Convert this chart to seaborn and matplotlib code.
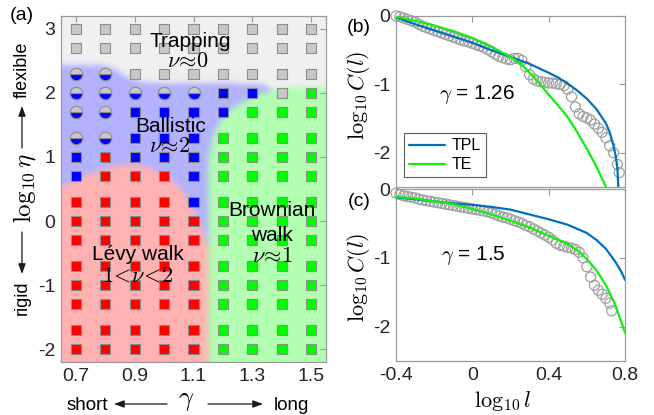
import numpy as np
import pandas as pd
import matplotlib
matplotlib.use('Agg')
import matplotlib.pyplot as plt
from matplotlib.path import Path
from matplotlib.patches import FancyArrowPatch
import seaborn as sns

# ---------------- data: panel (a) phase diagram ----------------
gamma_vals = [0.7, 0.8, 0.9, 1.0, 1.1, 1.2, 1.3, 1.4, 1.5]
log_eta_vals = [3.0, 2.7, 2.3, 2.0, 1.7, 1.3, 1.0, 0.7, 0.3, 0.0,
                -0.3, -0.7, -1.0, -1.3, -1.7, -2.0]
# T = trapping, H = trapping/ballistic (half), B = ballistic, L = Levy walk, W = Brownian walk
phase_rows = ["TTTTTTTTT", "TTTTTTTTT", "HHTTTTTTT", "HHHHHBBTW",
              "HHBBBBWWW", "HHBBBWWWW", "BLBBBWWWW", "BLLLBWWWW",
              "LLLLBWWWW", "LLLLLWWWW", "LLLLLWWWW", "LLLLLWWWW",
              "LLLLLWWWW", "LLLLLWWWW", "LLLLLWWWW", "LLLLLWWWW"]

# ---------------- data: panel (b) gamma = 1.26 ----------------
b_x = [-0.40, -0.38, -0.36, -0.34, -0.32, -0.30, -0.28, -0.26, -0.24, -0.22,
       -0.20, -0.18, -0.16, -0.14, -0.12, -0.10, -0.08, -0.06, -0.04, -0.02,
       0.00, 0.02, 0.04, 0.06, 0.08, 0.10, 0.12, 0.14, 0.16, 0.18,
       0.20, 0.22, 0.24, 0.26, 0.28, 0.30, 0.32, 0.34, 0.36, 0.38,
       0.40, 0.42, 0.44, 0.46, 0.48, 0.50, 0.52, 0.54, 0.56, 0.58,
       0.60, 0.62, 0.64, 0.66, 0.68, 0.70, 0.72, 0.74, 0.76, 0.77]
b_y = [0.00, -0.01, -0.03, -0.05, -0.07, -0.09, -0.12, -0.15, -0.17, -0.19,
       -0.21, -0.23, -0.25, -0.27, -0.29, -0.31, -0.33, -0.35, -0.37, -0.38,
       -0.40, -0.42, -0.44, -0.46, -0.49, -0.52, -0.56, -0.59, -0.61, -0.63,
       -0.64, -0.62, -0.62, -0.65, -0.74, -0.86, -0.92, -0.95, -0.96, -0.97,
       -0.98, -0.98, -0.99, -1.00, -1.02, -1.07, -1.18, -1.33, -1.43, -1.47,
       -1.49, -1.52, -1.58, -1.64, -1.70, -1.78, -1.90, -2.00, -2.17, -2.29]
b_tpl_x = [-0.4, -0.3, -0.2, -0.1, 0.0, 0.1, 0.2, 0.3, 0.4, 0.45, 0.5, 0.55,
           0.6, 0.65, 0.7, 0.72, 0.74, 0.75, 0.76, 0.765]
b_tpl_y = [-0.02, -0.12, -0.21, -0.30, -0.39, -0.50, -0.60, -0.70, -0.83, -0.90,
           -0.99, -1.09, -1.21, -1.36, -1.57, -1.70, -1.90, -2.03, -2.22, -2.50]
b_te_x = [-0.4, -0.3, -0.2, -0.1, 0.0, 0.1, 0.2, 0.25, 0.3, 0.35, 0.4, 0.45,
          0.5, 0.55, 0.6, 0.65, 0.7]
b_te_y = [-0.01, -0.07, -0.14, -0.22, -0.32, -0.45, -0.60, -0.69, -0.83, -0.98,
          -1.15, -1.31, -1.48, -1.70, -1.94, -2.20, -2.50]

# ---------------- data: panel (c) gamma = 1.5 ----------------
c_x = [-0.40, -0.38, -0.36, -0.34, -0.32, -0.30, -0.28, -0.26, -0.24, -0.22,
       -0.20, -0.18, -0.16, -0.14, -0.12, -0.10, -0.08, -0.06, -0.04, -0.02,
       0.00, 0.02, 0.04, 0.06, 0.08, 0.10, 0.12, 0.14, 0.16, 0.18,
       0.20, 0.22, 0.24, 0.26, 0.28, 0.30, 0.32, 0.34, 0.36, 0.38,
       0.40, 0.42, 0.44, 0.46, 0.48, 0.50, 0.52, 0.54, 0.56, 0.58,
       0.60, 0.62, 0.64, 0.66, 0.68, 0.70, 0.72, 0.73]
c_y = [-0.06, -0.08, -0.10, -0.11, -0.12, -0.13, -0.15, -0.16, -0.17, -0.18,
       -0.19, -0.20, -0.21, -0.22, -0.23, -0.24, -0.25, -0.26, -0.27, -0.28,
       -0.29, -0.30, -0.31, -0.32, -0.33, -0.35, -0.37, -0.39, -0.41, -0.42,
       -0.44, -0.46, -0.48, -0.50, -0.53, -0.55, -0.58, -0.61, -0.64, -0.67,
       -0.70, -0.74, -0.79, -0.82, -0.83, -0.85, -0.86, -0.88, -0.92, -1.00,
       -1.13, -1.28, -1.40, -1.47, -1.53, -1.59, -1.66, -1.77]
c_tpl_x = [-0.4, -0.3, -0.2, -0.1, 0.0, 0.1, 0.2, 0.3, 0.4, 0.5, 0.55, 0.6,
           0.65, 0.7, 0.75, 0.78, 0.8]
c_tpl_y = [-0.12, -0.15, -0.18, -0.21, -0.23, -0.26, -0.30, -0.37, -0.44, -0.52,
           -0.58, -0.64, -0.74, -0.87, -1.06, -1.20, -1.32]
c_te_x = [-0.4, -0.3, -0.2, -0.1, 0.0, 0.1, 0.2, 0.3, 0.4, 0.5, 0.55, 0.6,
          0.65, 0.7, 0.75, 0.8]
c_te_y = [-0.11, -0.14, -0.18, -0.22, -0.29, -0.37, -0.46, -0.56, -0.68, -0.80,
          -0.89, -1.02, -1.18, -1.40, -1.69, -2.09]

# ---------------- style ----------------
sns.set_theme(style='white')
plt.rcParams['font.family'] = ['Liberation Sans', 'DejaVu Sans']
plt.rcParams['mathtext.fontset'] = 'cm'
plt.rcParams['axes.unicode_minus'] = False
plt.rcParams['text.color'] = 'black'
plt.rcParams['axes.labelcolor'] = 'black'

SPINE = '#9a9a9a'
TXT = '#262626'
C_TPL = '#0072BD'
C_TE = '#11ee11'
W, H = 654, 415

fig = plt.figure(figsize=(W / 100, H / 100), dpi=100)


def fp(x, y):
    return (x / W, 1 - y / H)


def style_axes(ax):
    for s in ax.spines.values():
        s.set_color(SPINE)
        s.set_linewidth(0.9)
    ax.tick_params(direction='in', top=True, right=True, length=4, width=0.8,
                   color=SPINE, labelcolor=TXT, labelsize=14, pad=4)


def arrow(p0, p1):
    fig.add_artist(FancyArrowPatch(fp(*p0), fp(*p1), transform=fig.transFigure,
                                   arrowstyle='-|>,head_length=0.6,head_width=0.22',
                                   mutation_scale=10, lw=0.9, color='k',
                                   shrinkA=0, shrinkB=0))


# ---------------- panel (a) ----------------
axa = fig.add_axes([61 / W, 1 - 362 / H, 265 / W, 346 / H])
xlo, xhi, ylo, yhi = 0.65, 1.55, -2.2, 3.2
nx, ny = 266, 346
gx = np.linspace(xlo, xhi, nx)
gy = np.linspace(ylo, yhi, ny)
GX, GY = np.meshgrid(gx, gy)
pts = np.column_stack([GX.ravel(), GY.ravel()])

blue_poly = [(0.6, 2.44), (0.79, 2.44), (0.83, 2.38), (0.87, 2.26), (0.91, 2.19),
             (0.97, 2.16), (1.30, 2.15), (1.35, 2.12), (1.375, 2.04), (1.36, 1.9),
             (1.3, 1.0), (1.25, -2.4), (0.6, -2.4)]
red_poly = [(0.6, -2.4), (0.6, 0.45), (0.65, 0.53), (0.70, 0.66), (0.785, 0.80),
            (0.875, 0.90), (0.95, 0.84), (1.02, 0.67), (1.064, 0.47), (1.097, 0.20),
            (1.12, 0.0), (1.135, -0.2), (1.152, -0.45), (1.155, -2.4)]
green_poly = [(1.152, -2.4), (1.152, 1.0), (1.165, 1.3), (1.19, 1.55), (1.22, 1.72),
              (1.27, 1.87), (1.32, 1.98), (1.38, 2.06), (1.42, 2.09), (1.6, 2.09),
              (1.6, -2.4)]

img = np.ones((ny, nx, 3)) * np.array([240, 240, 240]) / 255
for poly, col in [(blue_poly, (178, 178, 255)), (red_poly, (255, 178, 178)),
                  (green_poly, (178, 255, 178))]:
    m = Path(poly).contains_points(pts).reshape(GX.shape)
    img[m] = np.array(col) / 255

sig = 3.0
kx = np.arange(-10, 11)
kern = np.exp(-kx ** 2 / (2 * sig ** 2))
kern /= kern.sum()
pad = np.pad(img, ((10, 10), (10, 10), (0, 0)), mode='edge')
tmp = np.zeros_like(pad)
for i, k in zip(kx, kern):
    tmp += k * np.roll(pad, i, axis=0)
out = np.zeros_like(pad)
for i, k in zip(kx, kern):
    out += k * np.roll(tmp, i, axis=1)
img = np.clip(out[10:-10, 10:-10], 0, 1)
axa.imshow(img, extent=[xlo, xhi, ylo, yhi], origin='lower', aspect='auto',
           interpolation='bilinear', zorder=0)

recs = []
for r, row in enumerate(phase_rows):
    for c, ph in enumerate(row):
        recs.append(dict(gamma=gamma_vals[c], log_eta=log_eta_vals[r], phase=ph))
df = pd.DataFrame(recs)
sq = df[df.phase != 'H']
pal = {'T': '#c8c8c8', 'B': '#0000ff', 'L': '#ff0000', 'W': '#00ff00'}
sns.scatterplot(data=sq, x='gamma', y='log_eta', hue='phase', palette=pal,
                marker='s', s=52, edgecolor='#8c8c8c', linewidth=0.8,
                legend=False, ax=axa, zorder=3)
hf = df[df.phase == 'H']
axa.plot(hf.gamma, hf.log_eta, linestyle='none', marker='o', fillstyle='bottom',
         markerfacecolor='#0000ff', markerfacecoloralt='#c8c8c8',
         markeredgecolor='#8c8c8c', markeredgewidth=0.8, markersize=9, zorder=3)

axa.set_xlim(xlo, xhi)
axa.set_ylim(ylo, yhi)
axa.set_xticks([0.7, 0.9, 1.1, 1.3, 1.5])
axa.set_xticklabels(['0.7', '0.9', '1.1', '1.3', '1.5'])
axa.set_yticks([-2, -1, 0, 1, 2, 3])
axa.set_yticklabels(['-2', '-1', '0', '1', '2', '3'])
axa.set_xlabel('')
axa.set_ylabel('')
style_axes(axa)

fs_reg = 15
axa.text(1.09, 2.80, 'Trapping', ha='center', va='center', fontsize=fs_reg, zorder=5)
axa.text(1.08, 2.49, r'$\nu\!\approx\!0$', ha='center', va='center', fontsize=fs_reg + 1, zorder=5)
axa.text(1.022, 1.48, 'Ballistic', ha='center', va='center', fontsize=fs_reg, zorder=5)
axa.text(1.02, 1.16, r'$\nu\!\approx\!2$', ha='center', va='center', fontsize=fs_reg + 1, zorder=5)
axa.text(1.368, 0.16, 'Brownian', ha='center', va='center', fontsize=fs_reg, zorder=5)
axa.text(1.368, -0.22, 'walk', ha='center', va='center', fontsize=fs_reg, zorder=5)
axa.text(1.368, -0.56, r'$\nu\!\approx\!1$', ha='center', va='center', fontsize=fs_reg + 1, zorder=5)
axa.text(0.91, -0.53, 'Lévy walk', ha='center', va='center', fontsize=fs_reg, zorder=5)
axa.text(0.91, -0.86, r'$1\!<\!\nu\!<\!2$', ha='center', va='center', fontsize=fs_reg + 1, zorder=5)

# y label of (a)
fig.text(*fp(22, 70), 'flexible', rotation=90, ha='center', va='center', fontsize=13)
fig.text(*fp(25, 188), r'$\log_{10}\eta$', rotation=90, ha='center', va='center', fontsize=18)
fig.text(*fp(22, 298), 'rigid', rotation=90, ha='center', va='center', fontsize=13)
arrow((22, 148), (22, 106))
arrow((22, 232), (22, 274))
# x label of (a)
fig.text(*fp(87, 405), 'short', ha='center', va='center', fontsize=13.5)
fig.text(*fp(186, 401), r'$\gamma$', ha='center', va='center', fontsize=19)
fig.text(*fp(291, 405), 'long', ha='center', va='center', fontsize=13.5)
arrow((167, 404), (114, 404))
arrow((208, 404), (263, 404))

fig.text(*fp(22, 15), '(a)', ha='center', va='center', fontsize=14)
fig.text(*fp(359, 27), '(b)', ha='center', va='center', fontsize=14)
fig.text(*fp(359, 201), '(c)', ha='center', va='center', fontsize=14)

# ---------------- panels (b) and (c) ----------------
axb = fig.add_axes([396 / W, 1 - 187 / H, 229 / W, 171 / H])
axc = fig.add_axes([396 / W, 1 - 361 / H, 229 / W, 172 / H])

for ax, dx, dy, tx, ty, ex, ey in [(axb, b_x, b_y, b_tpl_x, b_tpl_y, b_te_x, b_te_y),
                                    (axc, c_x, c_y, c_tpl_x, c_tpl_y, c_te_x, c_te_y)]:
    sns.scatterplot(x=dx, y=dy, ax=ax, marker='o', s=52, facecolor='none',
                    edgecolor='#a0a0a0', linewidth=0.9, zorder=2, clip_on=False)
    sns.lineplot(x=tx, y=ty, ax=ax, color=C_TPL, lw=1.6, label='TPL', zorder=3,
                 estimator=None, sort=False)
    sns.lineplot(x=ex, y=ey, ax=ax, color=C_TE, lw=1.6, label='TE', zorder=3,
                 estimator=None, sort=False)
    ax.set_xlim(-0.4, 0.8)
    ax.set_ylim(-2.5, 0)
    ax.set_xticks([-0.4, 0, 0.4, 0.8])
    ax.set_yticks([-2, -1, 0])
    ax.set_yticklabels(['-2', '-1', '0'])
    ax.set_xlabel('')
    ax.set_ylabel('')
    style_axes(ax)

axb.set_xticklabels([])
axc.set_xticklabels(['-0.4', '0', '0.4', '0.8'])
axc.get_legend().remove()
leg = axb.legend(loc='lower left', bbox_to_anchor=(0.02, 0.04), frameon=True,
                 fancybox=False, edgecolor='#333333', fontsize=11.5,
                 handlelength=2.3, borderpad=0.3, labelspacing=0.25,
                 handletextpad=0.4, borderaxespad=0.2)
leg.get_frame().set_linewidth(0.8)
for t in leg.get_texts():
    t.set_color('black')

axb.text(0.024, -1.15, r'$\gamma$ = 1.26', ha='center', va='center', fontsize=15)
axc.text(0.003, -0.96, r'$\gamma$ = 1.5', ha='center', va='center', fontsize=15)

fig.text(*fp(358, 95), r'$\log_{10}C(l)$', rotation=90, ha='center', va='center', fontsize=16)
fig.text(*fp(358, 277), r'$\log_{10}C(l)$', rotation=90, ha='center', va='center', fontsize=16)
fig.text(*fp(503, 401), r'$\log_{10}l$', ha='center', va='center', fontsize=16)

fig.savefig('out.png', dpi=100)
